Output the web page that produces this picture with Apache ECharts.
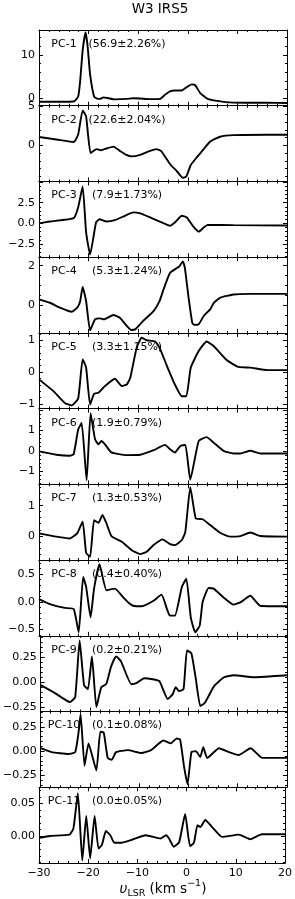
<!DOCTYPE html>
<html><head><meta charset="utf-8">
<script src="https://cdn.jsdelivr.net/npm/echarts@6/dist/echarts.min.js"></script>
<style>html,body{margin:0;padding:0;background:#fff}#c{width:295px;height:899px}</style>
</head><body><div id="c"></div>
<script>
// ---- data (velocity km/s, PC amplitude) ----
const pcNames = ["PC-1","PC-2","PC-3","PC-4","PC-5","PC-6","PC-7","PC-8","PC-9","PC-10","PC-11"];
const pcVariance = ["(56.9\u00b12.26%)","(22.6\u00b12.04%)","(7.9\u00b11.73%)","(5.3\u00b11.24%)","(3.3\u00b11.15%)","(1.9\u00b10.79%)","(1.3\u00b10.53%)","(0.4\u00b10.40%)","(0.2\u00b10.21%)","(0.1\u00b10.08%)","(0.0\u00b10.05%)"];
const xTicks = [-30,-20,-10,0,10,20];

const pc1 = [[-30,-0.8],[-26,-0.8],[-23,-0.75],[-22.1,0.4],[-21.7,4],[-21.2,11],[-20.6,15.2],[-20.2,12],[-19.7,5.5],[-18.9,0.4],[-18.4,0],[-17.7,-0.15],[-17,0.2],[-16,0],[-14.7,-0.25],[-12.3,-0.15],[-11,0],[-9.6,-0.05],[-7.6,-0.2],[-5.6,-0.15],[-4.6,0.8],[-3.6,1.6],[-2.6,1.8],[-1.2,1.8],[-0.3,2.5],[0.8,3.2],[1.5,3.0],[2.5,1.2],[3.8,0],[5.9,-0.6],[9.2,-1.0],[16,-1.05],[20,-1.1]];
const pc2 = [[-30,1.06],[-26.5,0.75],[-23,0.42],[-22.1,1.4],[-21.2,4.5],[-20.5,3.7],[-19.6,-1.0],[-18.4,-0.5],[-17.5,-0.64],[-16.4,-0.42],[-15,-0.17],[-13.7,-0.72],[-12.5,-1.2],[-11.3,-1.44],[-9.6,-1.23],[-7.9,-0.8],[-6.3,-0.5],[-5.4,-0.72],[-3.6,-2.42],[-2.2,-3.35],[-1.0,-4.2],[-0.3,-4.03],[0.6,-2.55],[1.8,-1.57],[3.2,-0.5],[4.5,0.47],[6.5,1.1],[9.2,1.31],[16,1.36],[20,1.36]];
const pc3 = [[-30,0],[-27.8,0.22],[-23,0.63],[-22.1,1.93],[-21.2,4.45],[-20.5,-1.1],[-19.7,-3.76],[-18.5,0.1],[-17.8,0.5],[-16.4,0.22],[-14.7,0.39],[-12.7,0.91],[-11,1.32],[-9.6,1.2],[-7.6,0.71],[-4.9,0.02],[-3.6,-0.3],[-2.6,0.1],[-1.2,0.91],[-0.2,0.71],[1.0,-0.3],[2.2,-1.0],[3.2,-0.5],[4.0,-0.18],[9.2,-0.22],[20,-0.26]];
const pc4 = [[-30,0.29],[-27.8,0.12],[-25.8,-0.13],[-23.4,-0.34],[-22.3,-0.13],[-21.7,0.2],[-21.2,0.92],[-20.5,0.2],[-19.7,-1.28],[-18.7,-0.72],[-17.7,-0.67],[-16.9,-0.72],[-15,-0.5],[-13.7,-0.64],[-11.4,-1.26],[-10.6,-1.23],[-9,-0.8],[-6.9,-0.3],[-5.7,0.2],[-4.9,0.79],[-3.6,1.63],[-2.2,1.88],[-1.7,1.96],[-1.0,2.22],[-0.6,1.9],[0.2,0.3],[0.9,-0.9],[1.3,-1.0],[2.2,-0.97],[3.2,-0.55],[4.5,-0.22],[5.2,0.1],[6.5,0.37],[9.2,0.54],[12.6,0.57],[20,0.57]];
const pc5 = [[-30,-0.23],[-27.1,-0.6],[-24.8,-0.97],[-23.4,-1.05],[-22.1,-0.83],[-21.2,0.4],[-20.5,0.14],[-19.7,-1.02],[-18.9,-0.68],[-18,-0.65],[-16.7,-0.44],[-14.7,-0.21],[-13.3,-0.44],[-12.3,-0.39],[-11.6,-0.18],[-10.3,0.77],[-9.3,1.08],[-8.3,1.0],[-6.6,0.96],[-5.7,0.77],[-4.2,0.19],[-2.6,-0.39],[-1.2,-0.76],[-0.3,-0.76],[0.6,0.14],[2.2,0.66],[3.8,0.96],[5.2,0.82],[7.9,0.37],[10.2,0.16],[12.6,0.14],[16,0.06],[20,0.06]];
const pc6 = [[-30,-0.03],[-26.5,-0.19],[-23.8,-0.24],[-23,-0.16],[-22.1,1.04],[-21.4,1.36],[-20.4,-1.44],[-19.6,1.84],[-18.7,0.56],[-18,0.32],[-17.4,0.48],[-16.7,0.32],[-15.4,-0.08],[-12.3,-0.21],[-9.6,-0.19],[-6.9,0.03],[-4.6,0.29],[-3.6,0.08],[-2.6,-0.08],[-1.5,0.24],[-0.5,0.29],[0.5,-1.41],[2.2,0.48],[3.8,0.67],[5.2,0.4],[7.2,0],[9.2,-0.13],[10.6,-0.13],[12.6,0],[14.6,-0.13],[20,-0.13]];
const pc7 = [[-30,0.08],[-26.5,-0.03],[-23.8,-0.09],[-22.3,0.08],[-21.2,0.47],[-20.5,-0.57],[-19.7,-0.7],[-18.9,0.52],[-18,0.43],[-17.2,0.69],[-16.4,0.41],[-15.4,-0.01],[-13.3,-0.2],[-11.3,-0.48],[-9.6,-0.61],[-8.3,-0.53],[-6.9,-0.31],[-5.1,-0.12],[-3.6,-0.28],[-2.6,-0.31],[-1.2,-0.14],[-0.5,0.13],[0.5,1.62],[1.6,0.58],[3.0,0.55],[4.5,0.36],[6.5,0.1],[8.6,-0.03],[10.6,-0.01],[12.6,0.11],[14.6,-0.01],[20,-0.03]];
const pc8 = [[-30,0.05],[-27.8,-0.04],[-24.8,-0.11],[-23,-0.13],[-22,-0.55],[-21.1,0.45],[-20.5,0.27],[-19.6,-0.28],[-18.9,0.24],[-17.8,0.68],[-16.4,0.21],[-14.7,0.24],[-13,0.08],[-12,-0.01],[-11,-0.07],[-9.3,-0.08],[-6.9,0.02],[-5.3,0.13],[-4.2,-0.13],[-3.6,-0.25],[-2.6,-0.25],[-1.2,0.27],[-0.3,0.42],[0.6,-0.28],[1.5,-0.55],[2.4,-0.43],[3.0,0],[4.2,0.25],[5.2,0.24],[7.2,0.08],[9.2,-0.05],[10.6,-0.01],[12.6,0.11],[14.6,-0.07],[20,-0.08]];
const pc9 = [[-30,-0.03],[-27.1,-0.11],[-24.1,-0.2],[-23,-0.15],[-22.1,0.42],[-21.2,-0.03],[-20.4,-0.07],[-19.6,0.26],[-18.7,-0.25],[-17.7,-0.05],[-16.7,-0.02],[-15.7,0.16],[-14.7,0.26],[-13.7,0.21],[-11.6,-0.02],[-10.6,-0.01],[-9,0.04],[-7.3,0.03],[-5.9,0.01],[-4.2,-0.17],[-3.2,-0.12],[-2.6,-0.05],[-1.9,-0.09],[-1.0,-0.07],[-0.3,0.32],[0.6,0.29],[1.5,0.03],[2.4,-0.24],[3.3,-0.21],[5.2,-0.04],[7.2,0.05],[9.2,0.07],[13.3,0.05],[20,0.07]];
const pc10 = [[-30,0.03],[-27.8,-0.01],[-24.4,-0.03],[-23,-0.01],[-22.3,0.2],[-21.9,0.38],[-21.1,-0.15],[-20.3,0.08],[-18.7,-0.2],[-17.9,0.2],[-17.2,0.19],[-16.4,-0.07],[-15.6,-0.09],[-14.7,-0.01],[-12.3,0.01],[-9.6,-0.02],[-7.6,0.01],[-5.1,0.11],[-3.6,0.08],[-2.4,0.13],[-1.7,0.12],[-0.9,-0.16],[-0.2,-0.34],[0.6,-0.01],[1.5,0.0],[2.4,-0.06],[3.0,0.04],[3.8,-0.07],[6.2,0.03],[8.2,-0.01],[10.2,-0.04],[12.6,0.03],[15,-0.07],[20,-0.07]];
const pc11 = [[-30,-0.0025],[-27.8,0.0005],[-23.8,0.0025],[-23,0.012],[-22.1,0.066],[-21.2,-0.037],[-20.4,0.031],[-19.6,-0.034],[-18.7,0.031],[-17.9,-0.019],[-17.2,-0.013],[-16.4,0.008],[-15.5,0.0015],[-14.7,-0.01],[-13.3,-0.01],[-11,-0.005],[-8.3,0.0015],[-5.3,-0.0035],[-4.2,0.0015],[-3.6,-0.003],[-2.6,-0.016],[-1.5,-0.009],[-0.3,0.034],[0.7,-0.015],[1.5,-0.01],[2.2,0.017],[2.8,0.014],[3.8,0.025],[5.2,0.014],[7.2,-0.001],[10.6,0.0025],[12.9,-0.0045],[15.3,0.003],[20,0.003]];
const pcSeries = [pc1,pc2,pc3,pc4,pc5,pc6,pc7,pc8,pc9,pc10,pc11];

// y-axis limits and ticks per panel
const yMin = [-1.72,-4.67,-4.09,-1.41,-1.15,-1.64,-0.81,-0.615,-0.296,-0.373,-0.041];
const yMax = [15.73,5.1,5.06,2.43,1.23,2.06,1.71,0.755,0.467,0.408,0.075];
const yMajor = [[0,10],[0,5],[-2.5,0,2.5],[0,2],[-1,0,1],[-1,0,1],[0,1],[-0.5,0,0.5],[-0.25,0,0.25],[-0.25,0,0.25],[0,0.05]];
const yMajorStep = [10,5,2.5,2,1,1,1,0.5,0.25,0.25,0.05];
const yMinorDiv = [5,5,5,4,5,5,5,5,5,5,5];
const yDecimals = [0,0,1,0,0,0,0,1,2,2,2];

// ---- layout ----
const gridLeft = 39, gridRight = 8, top0 = 30, panelH = 75.73;
const FONT = 'DejaVu Sans';
const fmt = (v, d) => { let s = Math.abs(v) < 1e-9 ? (0).toFixed(d) : v.toFixed(d); return s.replace('-', '\u2212'); };

function ticksFrom(i, wantMajor) {
  const step = yMajorStep[i] / yMinorDiv[i];
  const out = [];
  const k0 = Math.ceil(yMin[i] / step - 1e-9), k1 = Math.floor(yMax[i] / step + 1e-9);
  for (let k = k0; k <= k1; k++) {
    const v = +(k * step).toFixed(6);
    const isMajor = Math.abs(v / yMajorStep[i] - Math.round(v / yMajorStep[i])) < 1e-6;
    if (isMajor === wantMajor) out.push(v);
  }
  return out;
}

const lineStyleAxis = { color: '#000', width: 1 };
const grids = [], xAxes = [], yAxes = [], series = [];
for (let i = 0; i < 11; i++) {
  const top = top0 + i * panelH;
  grids.push({ left: gridLeft, right: gridRight, top: top, height: panelH, containLabel: false });
  ['bottom', 'top'].forEach(pos => {
    xAxes.push({
      gridIndex: i, type: 'value', position: pos, min: xTicks[0], max: xTicks[xTicks.length - 1], interval: 10,
      axisLine: { show: true, onZero: false, lineStyle: lineStyleAxis },
      axisTick: { show: true, inside: true, length: 4, lineStyle: { color: '#000', width: 1 } },
      minorTick: { show: true, splitNumber: 5, length: 2, lineStyle: { color: '#000', width: 1 } },
      splitLine: { show: false }, minorSplitLine: { show: false },
      axisLabel: { show: pos === 'bottom' && i === 10, margin: 5, color: '#000', fontFamily: FONT, fontSize: 11,
        formatter: v => fmt(v, 0) }
    });
  });
  const mj = ticksFrom(i, true), mn = ticksFrom(i, false);
  ['left', 'right'].forEach(pos => {
    yAxes.push({
      gridIndex: i, type: 'value', position: pos, min: yMin[i], max: yMax[i],
      axisLine: { show: true, onZero: false, lineStyle: lineStyleAxis },
      axisTick: { show: true, inside: true, length: 4, customValues: mj, lineStyle: { color: '#000', width: 1 } },
      splitLine: { show: false },
      axisLabel: { show: pos === 'left', customValues: yMajor[i], margin: 4, color: '#000', fontFamily: FONT, fontSize: 11,
        formatter: v => fmt(v, yDecimals[i]) }
    });
    yAxes.push({
      gridIndex: i, type: 'value', position: pos, min: yMin[i], max: yMax[i],
      axisLine: { show: false, onZero: false },
      axisTick: { show: true, inside: true, length: 2, customValues: mn, lineStyle: { color: '#000', width: 1 } },
      splitLine: { show: false },
      axisLabel: { show: false }
    });
  });
  series.push({
    type: 'line', xAxisIndex: 2 * i, yAxisIndex: 4 * i, data: pcSeries[i],
    showSymbol: false, symbol: 'none', smooth: 0.15, clip: true,
    lineStyle: { color: '#000', width: 1.9 }, silent: true, animation: false
  });
}

const els = [];
els.push({ type: 'text', x: 160, y: 9, style: { text: 'W3 IRS5', fill: '#000', font: '13.5px "DejaVu Sans"', align: 'center', verticalAlign: 'middle' } });
for (let i = 0; i < 11; i++) {
  const top = top0 + i * panelH;
  els.push({ type: 'text', x: 64, y: top + 14, style: { text: pcNames[i], fill: '#000', font: '11px "DejaVu Sans"', align: 'center', verticalAlign: 'middle' } });
  els.push({ type: 'text', x: 127, y: top + 14, style: { text: pcVariance[i], fill: '#000', font: '11px "DejaVu Sans"', align: 'center', verticalAlign: 'middle' } });
}
els.push({ type: 'text', x: 163, y: 889, style: {
  text: '{i|\u03c5}{s|LSR}{n| (km s}{p|\u22121}{n|)}', align: 'center', verticalAlign: 'middle', fill: '#000',
  rich: {
    i: { fontFamily: FONT, fontSize: 13.5, fontStyle: 'italic', lineHeight: 20, verticalAlign: 'middle' },
    n: { fontFamily: FONT, fontSize: 13.5, lineHeight: 20, verticalAlign: 'middle' },
    s: { fontFamily: FONT, fontSize: 9.5, lineHeight: 20, verticalAlign: 'bottom' },
    p: { fontFamily: FONT, fontSize: 9.5, lineHeight: 20, verticalAlign: 'top' }
  } } });

const option = {
  animation: false,
  backgroundColor: '#fff',
  grid: grids, xAxis: xAxes, yAxis: yAxes, series: series,
  graphic: { elements: els }
};
const chart = echarts.init(document.getElementById('c'), null, { renderer: 'canvas' });
chart.setOption(option);
</script></body></html>
